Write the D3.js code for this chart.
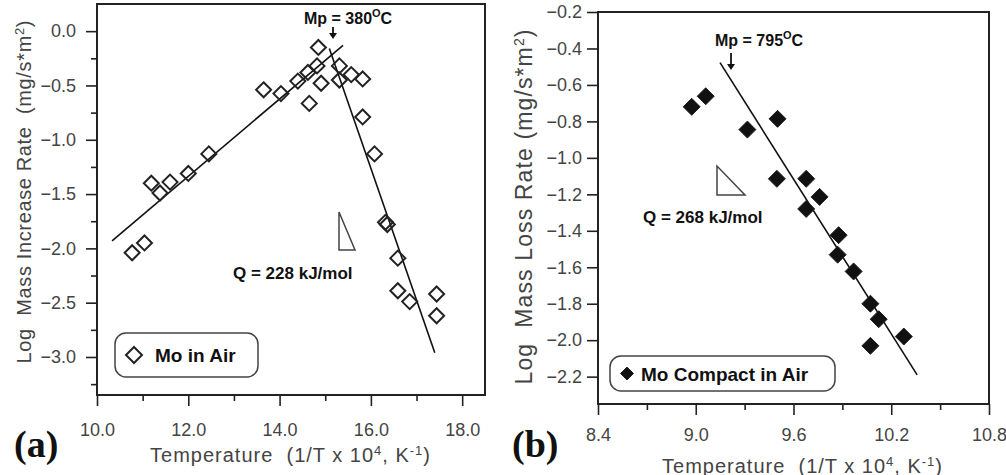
<!DOCTYPE html>
<html lang="en">
<head>
<meta charset="UTF-8">
<title>Mo mass change rate</title>
<script src="https://d3js.org/d3.v7.min.js"></script>
<style>
  body { margin: 0; background: #fff; }
  svg { display: block; font-family: "Liberation Sans", Arial, sans-serif; }
  .tick text { fill: #444; font-size: 18px; }
  .ttl { fill: #444; }
  .note { fill: #111; font-weight: bold; }
</style>
</head>
<body>
<div id="chart"></div>
<script>
// panel (a) - Mo in air, mass increase
const tempA = [10.77, 11.04, 11.19, 11.38, 11.60, 12.00, 12.45, 13.65, 14.03, 14.40, 14.62, 14.82, 14.85, 14.91,
               14.65, 15.31, 15.31, 15.57, 15.82, 15.82, 16.08, 16.32, 16.36, 16.59, 16.59, 16.85, 17.44, 17.44];
const rateA = [-2.04, -1.95, -1.40, -1.49, -1.39, -1.31, -1.13, -0.54, -0.575, -0.46, -0.38, -0.32, -0.15, -0.48,
               -0.665, -0.32, -0.45, -0.40, -0.44, -0.79, -1.13, -1.76, -1.78, -2.09, -2.39, -2.49, -2.42, -2.62];
const fitA = [[[10.33, -1.93], [15.39, -0.13]], [[15.09, -0.16], [17.40, -2.96]]];
const xMajorA = [10, 12, 14, 16, 18], xMinorA = [11, 13, 15, 17];
const yMajorA = [0, -0.5, -1, -1.5, -2, -2.5, -3], yMinorA = [-0.25, -0.75, -1.25, -1.75, -2.25, -2.75, -3.25];

// panel (b) - Mo compact in air, mass loss
const tempB = [8.975, 9.061, 9.317, 9.502, 9.498, 9.678, 9.760, 9.678, 9.877, 9.871, 9.969, 10.072, 10.123, 10.072, 10.277];
const rateB = [-0.72, -0.662, -0.845, -0.786, -1.115, -1.115, -1.214, -1.28, -1.424, -1.531, -1.623, -1.80, -1.885, -2.031, -1.98];
const fitB = [[[9.149, -0.478], [10.359, -2.19]]];
const xMajorB = [8.4, 9.0, 9.6, 10.2, 10.8], xMinorB = [8.7, 9.3, 9.9, 10.5];
const yMajorB = [-0.2, -0.4, -0.6, -0.8, -1.0, -1.2, -1.4, -1.6, -1.8, -2.0, -2.2];

const svg = d3.select("#chart").append("svg").attr("width", 1006).attr("height", 475);

function diamond(g, cx, cy, r, filled) {
  g.append("path")
    .attr("d", `M${cx},${cy - r}L${cx + r},${cy}L${cx},${cy + r}L${cx - r},${cy}Z`)
    .attr("fill", filled ? "#111" : "none")
    .attr("stroke", "#222").attr("stroke-width", filled ? 1 : 2);
}

function panel(p) {
  const g = svg.append("g");
  const x = d3.scaleLinear().domain(p.xDom).range(p.xRange);
  const y = d3.scaleLinear().domain(p.yDom).range(p.yRange);

  // frame
  g.append("rect")
    .attr("x", p.xRange[0]).attr("y", p.yRange[1])
    .attr("width", p.xRange[1] - p.xRange[0]).attr("height", p.yRange[0] - p.yRange[1])
    .attr("fill", "none").attr("stroke", "#222").attr("stroke-width", 2);

  const fmt = d3.format(".1f");
  g.append("g").attr("transform", `translate(0,${p.yRange[0]})`)
    .call(d3.axisBottom(x).tickValues(p.xMajor).tickFormat(fmt).tickSize(11).tickPadding(p.xPad).tickSizeOuter(0));
  g.append("g").attr("transform", `translate(0,${p.yRange[0]})`)
    .call(d3.axisBottom(x).tickValues(p.xMinor).tickFormat("").tickSize(6).tickSizeOuter(0));
  const ya = g.append("g").attr("transform", `translate(${p.xRange[0]},0)`)
    .call(d3.axisLeft(y).tickValues(p.yMajor).tickFormat(fmt).tickSize(11).tickPadding(p.yPad).tickSizeOuter(0));
  if (p.yMinor) {
    g.append("g").attr("transform", `translate(${p.xRange[0]},0)`)
      .call(d3.axisLeft(y).tickValues(p.yMinor).tickFormat("").tickSize(6).tickSizeOuter(0));
  }
  g.selectAll(".domain").remove();
  g.selectAll(".tick line").attr("stroke", "#222").attr("stroke-width", 1.6);
  ya.selectAll(".tick text").text(d => d === 0 ? "0.0" : fmt(d));

  // fit lines
  p.fits.forEach(f => {
    g.append("line")
      .attr("x1", x(f[0][0])).attr("y1", y(f[0][1]))
      .attr("x2", x(f[1][0])).attr("y2", y(f[1][1]))
      .attr("stroke", "#111").attr("stroke-width", 1.6);
  });

  // points
  p.xs.forEach((v, i) => diamond(g, x(v), y(p.ys[i]), p.r, p.filled));

  // axis titles
  g.append("text").attr("class", "ttl")
    .attr("transform", `translate(${p.yT.x},${p.yT.y}) rotate(-90)`)
    .attr("text-anchor", "middle").attr("font-size", p.yT.fs)
    .attr("textLength", p.yT.len).attr("lengthAdjust", "spacing")
    .html(p.yT.html);
  g.append("text").attr("class", "ttl")
    .attr("x", p.xT.x).attr("y", p.xT.y)
    .attr("text-anchor", "middle").attr("font-size", 20)
    .attr("textLength", p.xT.len).attr("lengthAdjust", "spacing")
    .html('Temperature\u00a0 (1/T x 10<tspan dy="-7" font-size="13">4</tspan><tspan dy="7">, K</tspan><tspan dy="-7" font-size="13">-1</tspan><tspan dy="7">)</tspan>');

  // panel letter
  g.append("text").attr("x", p.letterX).attr("y", 457)
    .attr("font-family", "'Liberation Serif', 'Times New Roman', serif")
    .attr("font-weight", "bold").attr("font-size", 38).attr("fill", "#111")
    .text(p.letter);

  // Mp annotation + arrow
  g.append("text").attr("class", "note").attr("x", p.mp.x).attr("y", p.mp.y).attr("font-size", 16)
    .html(p.mp.label + '<tspan dy="-7" font-size="11">O</tspan><tspan dy="7">C</tspan>');
  const ax = p.mp.ax, a0 = p.mp.a0, a1 = p.mp.a1;
  g.append("line").attr("x1", ax).attr("x2", ax).attr("y1", a0).attr("y2", a1 - 3)
    .attr("stroke", "#111").attr("stroke-width", 1.8);
  g.append("path").attr("d", `M${ax - 4},${a1 - 6}L${ax + 4},${a1 - 6}L${ax},${a1}Z`).attr("fill", "#111");

  // slope triangle
  g.append("path").attr("d", p.tri).attr("fill", "none").attr("stroke", "#444").attr("stroke-width", 1.5);
  g.append("text").attr("class", "note").attr("x", p.q.x).attr("y", p.q.y).attr("font-size", 17).text(p.q.label);

  // legend
  const L = p.leg;
  g.append("rect").attr("x", L.x).attr("y", L.y).attr("width", L.w).attr("height", L.h)
    .attr("rx", 11).attr("fill", "#fff").attr("stroke", "#444").attr("stroke-width", 1.5);
  diamond(g, L.x + L.dx, L.y + L.h / 2, L.r, p.filled);
  g.append("text").attr("class", "note").attr("x", L.x + L.tx).attr("y", L.y + L.h / 2 + 7)
    .attr("font-size", 19).text(L.label);
}

panel({
  xDom: [10, 18.5], xRange: [97, 485], yDom: [-3.35, 0.25], yRange: [395, 4],
  xMajor: xMajorA, xMinor: xMinorA, yMajor: yMajorA, yMinor: yMinorA, xPad: 17, yPad: 10,
  xs: tempA, ys: rateA, fits: fitA, r: 7.5, filled: false,
  yT: { x: 31, y: 192, fs: 20, len: 343,
        html: 'Log\u00a0 Mass Increase Rate\u00a0 (mg/s*m<tspan dy="-7" font-size="13">2</tspan><tspan dy="7">)</tspan>' },
  xT: { x: 290, y: 462, len: 280 },
  letter: "(a)", letterX: 14,
  mp: { label: "Mp = 380", x: 304, y: 24, ax: 333, a0: 27, a1: 39 },
  tri: "M339,212L339,250L355,250Z",
  q: { label: "Q = 228 kJ/mol", x: 233, y: 279 },
  leg: { x: 115, y: 333, w: 143, h: 44, dx: 19, r: 8, tx: 40, label: "Mo in Air" }
});

panel({
  xDom: [8.4, 10.8], xRange: [598, 989], yDom: [-2.35, -0.2], yRange: [404, 12],
  xMajor: xMajorB, xMinor: xMinorB, yMajor: yMajorB, yMinor: null, xPad: 13, yPad: 5,
  xs: tempB, ys: rateB, fits: fitB, r: 8.5, filled: true,
  yT: { x: 532, y: 207, fs: 23, len: 355,
        html: 'Log\u00a0 Mass Loss Rate (mg/s*m<tspan dy="-8" font-size="14">2</tspan><tspan dy="8">)</tspan>' },
  xT: { x: 802, y: 473, len: 280 },
  letter: "(b)", letterX: 512,
  mp: { label: "Mp = 795", x: 715, y: 46, ax: 731, a0: 53, a1: 70 },
  tri: "M717,166L717,195L745,195Z",
  q: { label: "Q = 268 kJ/mol", x: 643, y: 223 },
  leg: { x: 610, y: 356, w: 225, h: 35, dx: 17, r: 6.5, tx: 31, label: "Mo Compact in Air" }
});
</script>
</body>
</html>
